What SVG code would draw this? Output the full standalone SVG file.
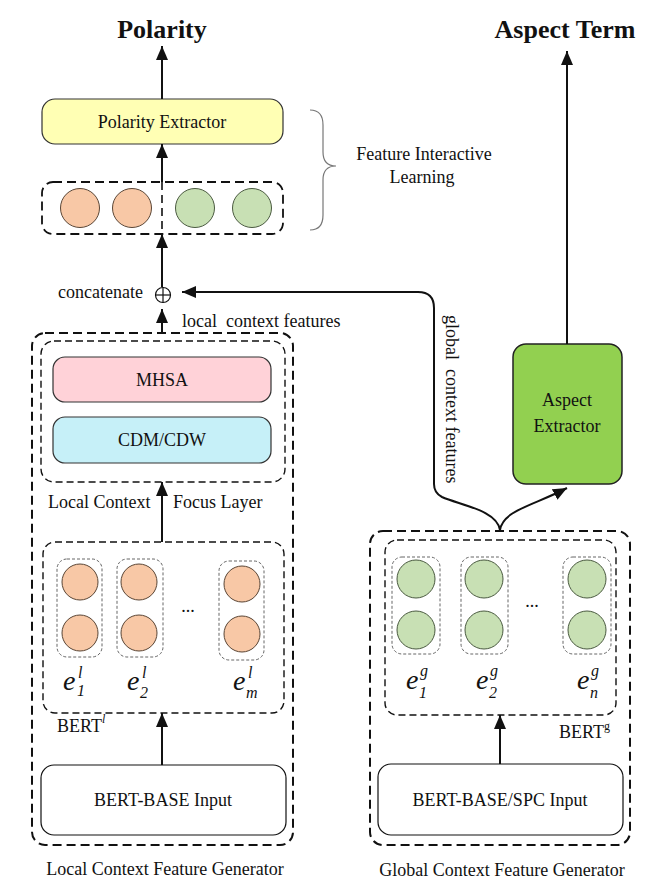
<svg xmlns="http://www.w3.org/2000/svg" width="663" height="886" viewBox="0 0 663 886">
<style>
text{font-family:"Liberation Serif","Times New Roman",serif;fill:#111;}
.t{font-size:18px;}
.title{font-size:26px;font-weight:bold;}
.mid{text-anchor:middle;}
.ei{font-style:italic;font-size:28px;}
.si{font-style:italic;font-size:16px;}
.box{stroke:#333;stroke-width:1.2;}
.outer{fill:none;stroke:#111;stroke-width:2;stroke-dasharray:9 5;}
.inner{fill:none;stroke:#111;stroke-width:1.4;stroke-dasharray:7 4;}
.small{fill:none;stroke:#555;stroke-width:0.9;stroke-dasharray:3 2;}
.or{fill:#F8C8A6;stroke:#5a4636;stroke-width:1;}
.gr{fill:#C8E0B4;stroke:#4a5a40;stroke-width:1;}
.ln{fill:none;stroke:#111;stroke-width:2;}
</style>
<defs>
<marker id="ah" markerUnits="userSpaceOnUse" markerWidth="16" markerHeight="14" refX="14" refY="6" orient="auto">
<path d="M0,0 L14,6 L0,12 Z" fill="#111"/>
</marker>
</defs>

<g id="polarity-title"><text class="title mid" x="162" y="38">Polarity</text></g>
<g id="aspect-title"><text class="title mid" x="565" y="38">Aspect Term</text></g>

<g id="polarity-extractor">
<rect class="box" x="42" y="99" width="241" height="45" rx="13" fill="#FFFFB4"/>
<text class="t mid" x="162" y="128">Polarity Extractor</text>
</g>

<g id="concat-features">
<rect class="outer" x="42" y="182" width="241" height="52" rx="11" style="stroke-width:1.8"/>
<line x1="162" y1="182" x2="162" y2="234" stroke="#111" stroke-width="1.6" stroke-dasharray="8 5"/>
<circle class="or" cx="80" cy="208" r="19.5"/>
<circle class="or" cx="132" cy="208" r="19.5"/>
<circle class="gr" cx="195" cy="208" r="19.5"/>
<circle class="gr" cx="252" cy="208" r="19.5"/>
</g>

<g id="feature-interactive">
<path d="M310,110 Q323,110 323,125 L323,152 Q323,166 336,166 Q323,166 323,180 L323,215 Q323,230 310,230" fill="none" stroke="#777" stroke-width="1.2"/>
<text class="t mid" x="424" y="160">Feature Interactive</text>
<text class="t mid" x="422" y="183">Learning</text>
</g>

<g id="concatenate">
<circle cx="163" cy="295" r="7.5" fill="none" stroke="#111" stroke-width="1.2"/>
<line x1="155.5" y1="295" x2="170.5" y2="295" stroke="#111" stroke-width="1.2"/>
<line x1="163" y1="287.5" x2="163" y2="302.5" stroke="#111" stroke-width="1.2"/>
<text class="t" x="58" y="298">concatenate</text>
</g>

<g id="local-generator">
<rect class="outer" x="32" y="333" width="261" height="512" rx="13"/>
<text class="t" x="182" y="327" xml:space="preserve">local  context features</text>
<text class="t mid" x="165" y="875">Local Context Feature Generator</text>
</g>

<g id="focus-layer">
<rect class="inner" x="41" y="341" width="244" height="141" rx="13"/>
<rect class="box" x="53" y="357" width="218" height="45" rx="12" fill="#FFD2D8"/>
<text class="t mid" x="162" y="386">MHSA</text>
<rect class="box" x="53" y="417" width="218" height="46" rx="12" fill="#C6F0F8"/>
<text class="t mid" x="162" y="446">CDM/CDW</text>
<text class="t" x="48" y="508">Local Context</text>
<text class="t" x="173" y="508">Focus Layer</text>
</g>

<g id="bert-local">
<rect class="inner" x="43" y="542" width="241" height="171" rx="12"/>
<rect class="small" x="57" y="559" width="45" height="98" rx="10"/>
<rect class="small" x="117" y="559" width="46" height="98" rx="10"/>
<rect class="small" x="219" y="561" width="45" height="99" rx="10"/>
<circle class="or" cx="80" cy="582" r="18"/>
<circle class="or" cx="80" cy="633" r="18"/>
<circle class="or" cx="139" cy="582" r="18"/>
<circle class="or" cx="139" cy="633" r="18"/>
<circle class="or" cx="242" cy="584" r="18"/>
<circle class="or" cx="242" cy="634" r="18"/>
<text class="t mid" x="188" y="612">...</text>
<text class="ei" x="63" y="690">e</text><text class="si" x="78" y="678">l</text><text class="si" x="77" y="696">1</text>
<text class="ei" x="127" y="690">e</text><text class="si" x="142" y="678">l</text><text class="si" x="140" y="698">2</text>
<text class="ei" x="233" y="690">e</text><text class="si" x="248" y="678">l</text><text class="si" x="246" y="698">m</text>
<text class="t" x="57" y="732">BERT<tspan class="si" style="font-size:12px" dy="-9">l</tspan></text>
</g>

<g id="bert-base-input">
<rect class="box" x="41" y="765" width="245" height="70" rx="13" fill="#fff" style="stroke:#111"/>
<text class="t mid" x="163" y="806">BERT-BASE Input</text>
</g>

<g id="global-generator">
<rect class="outer" x="370" y="531" width="260" height="314" rx="13"/>
<text class="t mid" x="502" y="876">Global Context Feature Generator</text>
</g>

<g id="bert-global">
<rect class="inner" x="385" y="540" width="231" height="175" rx="12"/>
<rect class="small" x="392" y="557" width="48" height="97" rx="10"/>
<rect class="small" x="461" y="557" width="47" height="97" rx="10"/>
<rect class="small" x="563" y="557" width="48" height="97" rx="10"/>
<circle class="gr" cx="416" cy="579" r="19"/>
<circle class="gr" cx="416" cy="630" r="19"/>
<circle class="gr" cx="484" cy="579" r="19"/>
<circle class="gr" cx="484" cy="630" r="19"/>
<circle class="gr" cx="587" cy="579" r="19"/>
<circle class="gr" cx="587" cy="630" r="19"/>
<text class="t mid" x="532" y="607">...</text>
<text class="ei" x="406" y="689">e</text><text class="si" x="420" y="676">g</text><text class="si" x="419" y="698">1</text>
<text class="ei" x="476" y="689">e</text><text class="si" x="490" y="676">g</text><text class="si" x="489" y="698">2</text>
<text class="ei" x="577" y="689">e</text><text class="si" x="591" y="676">g</text><text class="si" x="590" y="698">n</text>
<text class="t" x="559" y="738">BERT<tspan style="font-size:12px" dy="-8">g</tspan></text>
</g>

<g id="bert-spc-input">
<rect class="box" x="378" y="764" width="245" height="71" rx="13" fill="#fff" style="stroke:#111"/>
<text class="t mid" x="500" y="806">BERT-BASE/SPC Input</text>
</g>

<g id="aspect-extractor">
<rect x="513" y="344" width="109" height="140" rx="13" fill="#92D050" stroke="#222" stroke-width="1.5"/>
<text class="t mid" x="567" y="406">Aspect</text>
<text class="t mid" x="567" y="432">Extractor</text>
</g>

<g id="global-label">
<text class="t" transform="translate(446,315) rotate(90)" xml:space="preserve">global  context features</text>
</g>

<g id="connectors">
<line class="ln" x1="162" y1="99" x2="162" y2="46" marker-end="url(#ah)"/>
<line class="ln" x1="162" y1="182" x2="162" y2="144" marker-end="url(#ah)"/>
<line class="ln" x1="162" y1="287" x2="162" y2="234" marker-end="url(#ah)"/>
<line class="ln" x1="162" y1="333" x2="162" y2="309" marker-end="url(#ah)"/>
<line class="ln" x1="162" y1="542" x2="162" y2="482" marker-end="url(#ah)"/>
<line class="ln" x1="162" y1="765" x2="162" y2="713" marker-end="url(#ah)"/>
<line class="ln" x1="500" y1="764" x2="500" y2="715" marker-end="url(#ah)"/>
<line class="ln" x1="567" y1="344" x2="567" y2="51" marker-end="url(#ah)"/>
<path class="ln" d="M500,530 C497,510 460,505 442,497 Q434,493 434,484 L434,308 Q434,292 418,292 L182,292" marker-end="url(#ah)"/>
<path class="ln" d="M500,530 C503,510 535,505 567,488" marker-end="url(#ah)"/>
</g>
</svg>
